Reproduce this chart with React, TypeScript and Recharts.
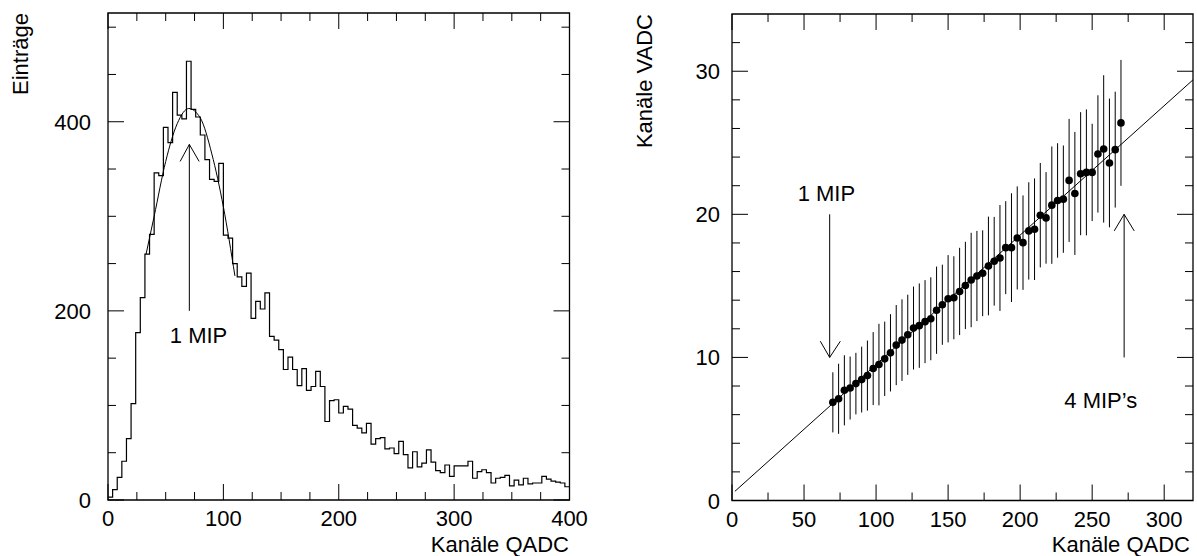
import {
  ComposedChart,
  Line,
  Scatter,
  ErrorBar,
  XAxis,
  YAxis,
  ReferenceLine,
  ReferenceDot,
  ReferenceArea,
} from "recharts"

const FONT = '"Liberation Sans", Arial, Helvetica, sans-serif'

// --- linkes Bild: QADC-Spektrum, 100 Kanäle zu je 4 QADC-Einheiten ---
const binWidth = 4
const counts = [
  3, 11, 24, 41, 65, 102, 177, 214, 260, 281,
  346, 343, 394, 378, 431, 407, 403, 464, 413, 405,
  386, 360, 339, 337, 356, 280, 277, 250, 236, 226,
  240, 192, 210, 202, 219, 173, 169, 159, 138, 151,
  138, 121, 139, 116, 120, 136, 120, 83, 105, 106,
  92, 99, 96, 79, 76, 71, 81, 59, 65, 66,
  54, 55, 49, 62, 48, 34, 51, 35, 39, 53,
  40, 31, 29, 37, 25, 36, 36, 36, 41, 23,
  30, 32, 29, 18, 23, 24, 26, 15, 21, 16,
  23, 17, 18, 18, 25, 22, 20, 19, 18, 14,
]
// Gauss-Fit um das MIP-Maximum
const fitQadc = [33, 40, 50, 60, 70, 80, 90, 100, 110]
const fitCounts = [260, 300, 358, 398, 414, 404, 366, 310, 237]

const leftXTicks = [0, 25, 50, 75, 100, 125, 150, 175, 200, 225, 250, 275, 300, 325, 350, 375, 400]
const leftXMajor = [0, 100, 200, 300, 400]
const leftYTicks = [0, 50, 100, 150, 200, 250, 300, 350, 400, 450, 500]
const leftYMajor = [0, 200, 400]

// --- rechtes Bild: VADC gegen QADC ---
const qadc = [
  70, 74, 78, 82, 86, 90, 94, 98, 102, 106, 110, 114, 118, 122, 126, 130, 134,
  138, 142, 146, 150, 154, 158, 162, 166, 170, 174, 178, 182, 186, 190, 194,
  198, 202, 206, 210, 214, 218, 222, 226, 230, 234, 238, 242, 246, 250, 254,
  258, 262, 266, 270,
]
const vadc = [
  6.86, 7.11, 7.7, 7.86, 8.17, 8.45, 8.73, 9.22, 9.5, 9.9, 10.32, 10.86, 11.21,
  11.58, 12.05, 12.22, 12.5, 12.7, 13.3, 13.68, 14.1, 14.17, 14.61, 15.03, 15.41,
  15.69, 15.88, 16.39, 16.72, 16.95, 17.67, 17.67, 18.35, 18.02, 18.84, 18.96,
  19.94, 19.75, 20.64, 20.97, 21.06, 22.37, 21.46, 22.84, 22.93, 22.93, 24.22,
  24.57, 23.59, 24.52, 26.39,
]
const vadcErr = [
  2.1, 2.45, 2.45, 2.2, 2.15, 2.3, 2.45, 2.55, 2.85, 2.6, 2.7, 2.8, 2.85, 2.8,
  2.9, 2.95, 2.9, 2.9, 3.05, 2.8, 3.05, 2.9, 3.05, 3.05, 3.3, 3.15, 3.0, 3.45,
  3.1, 3.7, 3.25, 3.8, 3.6, 3.3, 3.4, 3.55, 3.65, 3.2, 4.1, 4.0, 3.75, 4.3, 4.3,
  4.3, 4.4, 3.4, 4.1, 5.15, 4.5, 4.05, 4.4,
]
const lineQadc = [2, 320]
const lineVadc = [0.64, 29.4]

const rightXTicks = [0, 25, 50, 75, 100, 125, 150, 175, 200, 225, 250, 275, 300]
const rightXMajor = [0, 50, 100, 150, 200, 250, 300]
const rightYTicks = [0, 2, 4, 6, 8, 10, 12, 14, 16, 18, 20, 22, 24, 26, 28, 30, 32]
const rightYMajor = [0, 10, 20, 30]

const histData = counts
  .map((c, i) => ({ x: i * binWidth, y: c }))
  .concat([{ x: counts.length * binWidth, y: counts[counts.length - 1] }])
const fitData = fitQadc.map((x, i) => ({ x, y: fitCounts[i] }))
const pointData = qadc.map((x, i) => ({ x, y: vadc[i], err: vadcErr[i] }))
const lineData = lineQadc.map((x, i) => ({ x, y: lineVadc[i] }))

const LONG = 16
const SHORT = 8

// Beschriftung der Achsen (nur Text, die Striche kommen von den ReferenceLines)
function labelTick(side: "bottom" | "left", majors: number[], gap = 17) {
  return (p: any) => {
    const v = p.payload.value
    if (!majors.includes(v)) return <g />
    if (side === "bottom")
      return (
        <text x={p.x} y={p.y + 26} textAnchor="middle" fontSize={22} fill="#000">
          {v}
        </text>
      )
    return (
      <text x={p.x - gap} y={p.y + 8} textAnchor="end" fontSize={22} fill="#000">
        {v}
      </text>
    )
  }
}

// Striche nach innen, oben und unten bzw. links und rechts
const vTick = (len: number) => (p: any) => {
  const top = Math.min(p.y1, p.y2)
  const bot = Math.max(p.y1, p.y2)
  return (
    <g>
      <line x1={p.x1} y1={bot} x2={p.x1} y2={bot - len} stroke="#000" strokeWidth={1} />
      <line x1={p.x1} y1={top} x2={p.x1} y2={top + len} stroke="#000" strokeWidth={1} />
    </g>
  )
}
const hTick = (len: number) => (p: any) => {
  const l = Math.min(p.x1, p.x2)
  const r = Math.max(p.x1, p.x2)
  return (
    <g>
      <line x1={l} y1={p.y1} x2={l + len} y2={p.y1} stroke="#000" strokeWidth={1} />
      <line x1={r} y1={p.y1} x2={r - len} y2={p.y1} stroke="#000" strokeWidth={1} />
    </g>
  )
}

function Title({ tx, ty, text, vertical }: any) {
  return (
    <text
      x={tx}
      y={ty}
      textAnchor="end"
      fontSize={22}
      fill="#000"
      transform={vertical ? `rotate(-90 ${tx} ${ty})` : undefined}
    >
      {text}
    </text>
  )
}

const seg = { stroke: "#000", strokeWidth: 1, ifOverflow: "visible" as const }
const noDot = { fill: "none", stroke: "none", r: 0, ifOverflow: "visible" as const }
const annot = { fontSize: 22, fill: "#000", position: "center" as const }

function frameTicks(xTicks: number[], xMajor: number[], yTicks: number[], yMajor: number[]) {
  return [
    ...xTicks.map((v) => (
      <ReferenceLine key={"x" + v} x={v} shape={vTick(xMajor.includes(v) ? LONG : SHORT)} />
    )),
    ...yTicks.map((v) => (
      <ReferenceLine key={"y" + v} y={v} shape={hTick(yMajor.includes(v) ? LONG : SHORT)} />
    )),
  ]
}

function QadcSpectrum() {
  return (
    <ComposedChart width={600} height={556} margin={{ top: 13, right: 30.5, bottom: 0, left: 0 }}>
      <XAxis
        type="number"
        dataKey="x"
        domain={[0, 400]}
        ticks={leftXTicks}
        interval={0}
        tickSize={0}
        tickMargin={0}
        tickLine={false}
        height={56}
        axisLine={false}
        tick={labelTick("bottom", leftXMajor)}
        label={<Title tx={569} ty={552} text="Kanäle QADC" />}
      />
      <YAxis
        type="number"
        domain={[0, 515]}
        ticks={leftYTicks}
        interval={0}
        tickSize={0}
        tickMargin={0}
        tickLine={false}
        width={108}
        axisLine={false}
        tick={labelTick("left", leftYMajor, 17)}
        label={<Title tx={28} ty={13} text="Einträge" vertical />}
      />
      <ReferenceArea x1={0} x2={400} y1={0} y2={515} fill="none" fillOpacity={0} stroke="#000" strokeWidth={1.3} />
      {frameTicks(leftXTicks, leftXMajor, leftYTicks, leftYMajor)}
      <Line
        data={histData}
        dataKey="y"
        type="stepAfter"
        stroke="#000"
        strokeWidth={1.2}
        dot={false}
        activeDot={false}
        isAnimationActive={false}
      />
      <Line
        data={fitData}
        dataKey="y"
        type="monotone"
        stroke="#000"
        strokeWidth={1}
        dot={false}
        activeDot={false}
        isAnimationActive={false}
      />
      <ReferenceLine segment={[{ x: 70.5, y: 200 }, { x: 70.5, y: 376 }]} {...seg} />
      <ReferenceLine segment={[{ x: 62.5, y: 358 }, { x: 70.5, y: 376 }]} {...seg} />
      <ReferenceLine segment={[{ x: 79, y: 358 }, { x: 70.5, y: 376 }]} {...seg} />
      <ReferenceDot x={78.5} y={174} {...noDot} label={{ value: "1 MIP", ...annot }} />
    </ComposedChart>
  )
}

function VadcVsQadc() {
  return (
    <ComposedChart width={597} height={556} margin={{ top: 14, right: 4, bottom: 0, left: 0 }}>
      <XAxis
        type="number"
        dataKey="x"
        domain={[0, 320]}
        ticks={rightXTicks}
        interval={0}
        tickSize={0}
        tickMargin={0}
        tickLine={false}
        height={55.5}
        axisLine={false}
        tick={labelTick("bottom", rightXMajor)}
        label={<Title tx={590} ty={552} text="Kanäle QADC" />}
      />
      <YAxis
        type="number"
        domain={[0, 34]}
        ticks={rightYTicks}
        interval={0}
        tickSize={0}
        tickMargin={0}
        tickLine={false}
        width={132}
        axisLine={false}
        tick={labelTick("left", rightYMajor, 12)}
        label={<Title tx={52} ty={14} text="Kanäle VADC" vertical />}
      />
      <ReferenceArea x1={0} x2={320} y1={0} y2={34} fill="none" fillOpacity={0} stroke="#000" strokeWidth={1.3} />
      {frameTicks(rightXTicks, rightXMajor, rightYTicks, rightYMajor)}
      <Line
        data={lineData}
        dataKey="y"
        type="linear"
        stroke="#000"
        strokeWidth={1}
        dot={false}
        activeDot={false}
        isAnimationActive={false}
      />
      <Scatter
        data={pointData}
        dataKey="y"
        fill="#000"
        isAnimationActive={false}
        shape={(p: any) => <circle cx={p.cx} cy={p.cy} r={3.8} fill="#000" />}
      >
        <ErrorBar dataKey="err" direction="y" width={0} stroke="#000" strokeWidth={1} isAnimationActive={false} />
      </Scatter>
      <ReferenceLine segment={[{ x: 67.8, y: 20 }, { x: 67.8, y: 10 }]} {...seg} />
      <ReferenceLine segment={[{ x: 61.3, y: 11.13 }, { x: 67.8, y: 10 }]} {...seg} />
      <ReferenceLine segment={[{ x: 75.2, y: 11.13 }, { x: 67.8, y: 10 }]} {...seg} />
      <ReferenceDot x={65.5} y={21.5} {...noDot} label={{ value: "1 MIP", ...annot }} />
      <ReferenceLine segment={[{ x: 272.2, y: 10 }, { x: 272.2, y: 20 }]} {...seg} />
      <ReferenceLine segment={[{ x: 265.3, y: 18.84 }, { x: 272.2, y: 20 }]} {...seg} />
      <ReferenceLine segment={[{ x: 279.2, y: 18.84 }, { x: 272.2, y: 20 }]} {...seg} />
      <ReferenceDot x={256} y={7} {...noDot} label={{ value: "4 MIP’s", ...annot }} />
    </ComposedChart>
  )
}

export default function App() {
  return (
    <div
      style={{
        position: "absolute",
        left: 0,
        top: 0,
        width: 1197,
        height: 556,
        background: "#fff",
        fontFamily: FONT,
      }}
    >
      <div style={{ position: "absolute", left: 0, top: 0 }}>
        <QadcSpectrum />
      </div>
      <div style={{ position: "absolute", left: 600, top: 0 }}>
        <VadcVsQadc />
      </div>
    </div>
  )
}
